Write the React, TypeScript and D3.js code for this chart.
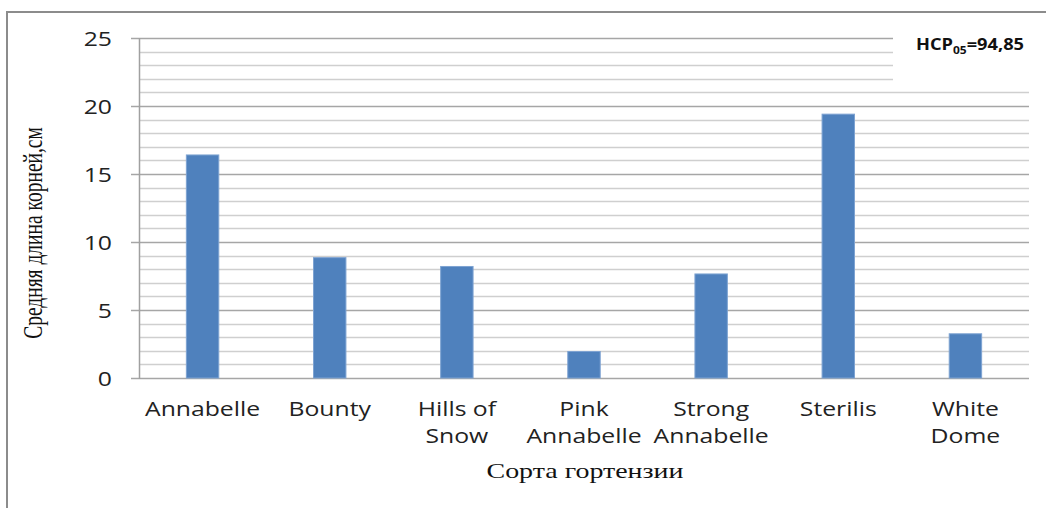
import React from "react";
import * as d3 from "d3";

const categories: string[][] = [
  ["Annabelle"],
  ["Bounty"],
  ["Hills of", "Snow"],
  ["Pink", "Annabelle"],
  ["Strong", "Annabelle"],
  ["Sterilis"],
  ["White", "Dome"],
];
const values: number[] = [16.4, 8.85, 8.2, 1.95, 7.65, 19.4, 3.25];
const majorTicks: number[] = [0, 5, 10, 15, 20, 25];
const minorTicks: number[] = d3.range(1, 25);
const yTitle = "Средняя длина корней,см";
const xTitle = "Сорта гортензии";

const W = 1046;
const H = 508;
const left = 139;
const right = 1029;
const top = 38;
const bottom = 378;
const SX = 1.27;
const SANS = "'Open Sans', sans-serif";
const SERIF = "'Liberation Serif', 'Times New Roman', serif";

export default function App() {
  const x = d3
    .scaleBand<number>()
    .domain(d3.range(categories.length))
    .range([left, right])
    .paddingInner(0.745)
    .paddingOuter(0.3725);
  const y = d3.scaleLinear().domain([0, 25]).range([bottom, top]);
  const boxX0 = 893;
  const boxY1 = 86;
  return (
    <svg
      width={W}
      height={H}
      style={{ position: "absolute", left: 0, top: 0, background: "#fff" }}
    >
      <rect x={0} y={0} width={W} height={H} fill="#fff" />
      {/* frame */}
      <line x1={7} x2={W} y1={12} y2={12} stroke="#8c8c8c" strokeWidth={2} />
      <line x1={7} x2={7} y1={11} y2={H} stroke="#8c8c8c" strokeWidth={2} />
      {/* gridlines */}
      {minorTicks.map((t) => {
        if (t % 5 === 0) return null;
        const yy = Math.round(y(t)) + 0.5;
        const short = yy < boxY1;
        return (
          <line
            key={"m" + t}
            x1={left}
            x2={short ? boxX0 : right}
            y1={yy}
            y2={yy}
            stroke="#cfcfcf"
            strokeWidth={1.3}
          />
        );
      })}
      {majorTicks.map((t) => {
        const yy = Math.round(y(t)) + 0.5;
        const short = yy < boxY1;
        return (
          <g key={"M" + t}>
            <line
              x1={left - 8}
              x2={short ? boxX0 : right}
              y1={yy}
              y2={yy}
              stroke="#a6a6a6"
              strokeWidth={1.5}
            />
            <text
              transform={`translate(112, ${yy + 7}) scale(${SX},1)`}
              textAnchor="end"
              fontFamily={SANS}
              fontSize={19.5}
              fill="#222"
            >
              {t}
            </text>
          </g>
        );
      })}
      {/* y axis */}
      <line
        x1={left + 0.5}
        x2={left + 0.5}
        y1={top}
        y2={bottom + 1}
        stroke="#a0a0a0"
        strokeWidth={1.5}
      />
      {/* bars */}
      {values.map((v, i) => (
        <rect
          key={"b" + i}
          x={x(i)!}
          y={y(v)}
          width={x.bandwidth()}
          height={bottom - y(v)}
          fill="#4f81bd"
          stroke="#7ea3d2"
          strokeWidth={1}
        />
      ))}
      {/* x labels */}
      {categories.map((lines, i) => (
        <text
          key={"c" + i}
          transform={`translate(${x(i)! + x.bandwidth() / 2}, 416) scale(${SX},1)`}
          textAnchor="middle"
          fontFamily={SANS}
          fontSize={19.5}
          fill="#222"
        >
          {lines.map((l, j) => (
            <tspan key={j} x={0} dy={j === 0 ? 0 : 27}>
              {l}
            </tspan>
          ))}
        </text>
      ))}
      {/* titles */}
      <text
        transform={`translate(585, 478) scale(1.3,1)`}
        textAnchor="middle"
        fontFamily={SERIF}
        fontSize={21.5}
        fill="#111"
      >
        {xTitle}
      </text>
      <text
        transform={`translate(42, ${(top + bottom) / 2 + 25}) scale(1.35,1) rotate(-90)`}
        textAnchor="middle"
        fontFamily={SERIF}
        fontSize={19.5}
        fill="#111"
      >
        {yTitle}
      </text>
      {/* HCP label */}
      <text
        transform={`translate(916, 50) scale(1.14,1)`}
        fontFamily={SANS}
        fontWeight="bold"
        fontSize={16}
        fill="#111"
      >
        HCP
        <tspan fontSize={10.5} dy={4}>
          05
        </tspan>
        <tspan dy={-4}>=94,85</tspan>
      </text>
    </svg>
  );
}
